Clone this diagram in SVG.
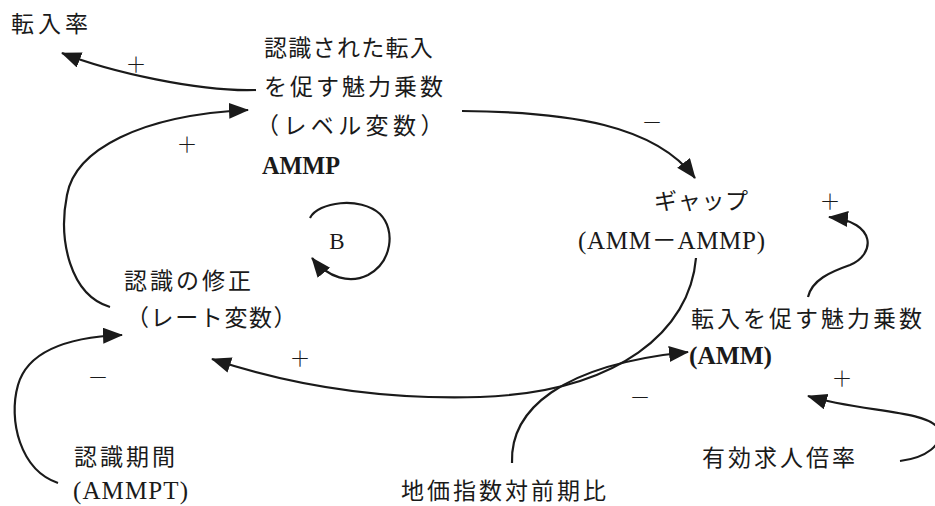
<svg xmlns="http://www.w3.org/2000/svg" width="935" height="506" viewBox="0 0 935 506">
<style>
  .jp { font-family: "Liberation Serif", "Noto Sans CJK JP", serif; font-size: 23px; fill: #1a1a1a; letter-spacing: 3px; }
  .lat { font-family: "Liberation Serif", "Noto Sans CJK JP", serif; font-size: 25px; fill: #1a1a1a; }
  .b { font-weight: bold; }
  .sign { font-family: "Noto Sans CJK JP", sans-serif; font-size: 21px; fill: #1a1a1a; text-anchor: middle; font-weight: 300; }
  .link { fill: none; stroke: #1a1a1a; stroke-width: 2.2; marker-end: url(#arr); }
</style>
<defs>
  <marker id="arr" markerUnits="userSpaceOnUse" markerWidth="22" markerHeight="18" refX="19" refY="8" orient="auto">
    <path d="M0,0 L20,8 L0,16 Z" fill="#1a1a1a"/>
  </marker>
</defs>
<rect width="935" height="506" fill="#ffffff"/>

<g id="tennyuritsu">
  <text class="jp" x="11" y="32" style="letter-spacing:4px">転入率</text>
</g>
<g id="ammp">
  <text class="jp" x="264" y="56" style="letter-spacing:1.3px">認識された転入</text>
  <text class="jp" x="264" y="95">を促す魅力乗数</text>
  <text class="jp" x="256" y="134" style="letter-spacing:4.4px">（レベル変数）</text>
  <text class="lat b" x="262" y="174" style="font-size:26px" textLength="78" lengthAdjust="spacingAndGlyphs">AMMP</text>
</g>
<g id="gap">
  <text class="jp" x="654" y="209" style="letter-spacing:0.7px">ギャップ</text>
  <text class="lat" x="578" y="249" textLength="187" lengthAdjust="spacing">(AMM－AMMP)</text>
</g>
<g id="ninshiki-shusei">
  <text class="jp" x="124" y="289">認識の修正</text>
  <text class="jp" x="126" y="326" style="letter-spacing:1.6px">（レート変数）</text>
</g>
<g id="loop-b">
  <text class="lat" x="337" y="249" text-anchor="middle" style="font-size:23px">B</text>
</g>
<g id="amm">
  <text class="jp" x="691" y="327">転入を促す魅力乗数</text>
  <text class="lat b" x="689" y="364" style="font-size:26px" textLength="83" lengthAdjust="spacingAndGlyphs">(AMM)</text>
</g>
<g id="ammpt">
  <text class="jp" x="74" y="465">認識期間</text>
  <text class="lat" x="73" y="499" textLength="115" lengthAdjust="spacing">(AMMPT)</text>
</g>
<g id="chika">
  <text class="jp" x="401" y="499">地価指数対前期比</text>
</g>
<g id="kyujin">
  <text class="jp" x="702" y="466">有効求人倍率</text>
</g>

<g id="connectors">
  <path class="link" d="M256 90 C200 92, 110 72, 62 53"/>
  <path class="link" d="M110 307 C70 295, 58 240, 67 195 C75 150, 140 115, 248 110"/>
  <path class="link" d="M462 111 C570 112, 655 125, 695 178"/>
  <path class="link" d="M696 258 C690 330, 620 392, 480 397 C380 400, 290 385, 212 359"/>
  <path class="link" d="M58 483 C20 470, 8 420, 18 385 C28 350, 70 337, 122 335"/>
  <path class="link" d="M512 463 C510 410, 560 365, 688 352"/>
  <path class="link" d="M900 461 C925 458, 945 445, 938 428 C925 410, 860 412, 808 396"/>
  <path class="link" d="M808 297 C812 280, 830 272, 850 265 C875 255, 878 222, 829 217"/>
  <path class="link" d="M310 218 C318 202, 360 196, 380 214 C396 230, 392 262, 368 275 C350 284, 328 278, 312 258"/>
</g>
<g id="signs">
  <text class="sign" x="136" y="72">＋</text>
  <text class="sign" x="187" y="152">＋</text>
  <text class="sign" x="652" y="130">－</text>
  <text class="sign" x="830" y="209">＋</text>
  <text class="sign" x="300" y="366">＋</text>
  <text class="sign" x="98" y="385">－</text>
  <text class="sign" x="640" y="405">－</text>
  <text class="sign" x="842" y="386">＋</text>
</g>
</svg>
